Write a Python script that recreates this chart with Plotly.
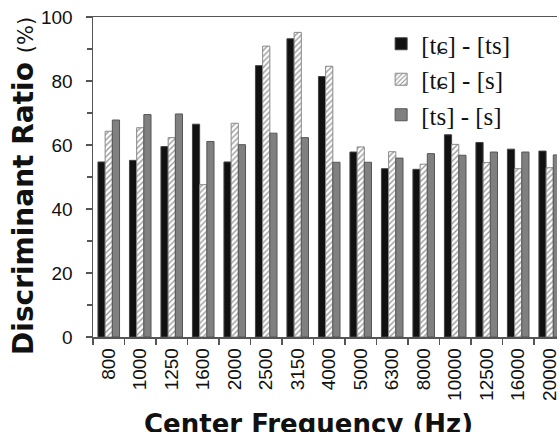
import plotly.graph_objects as go

categories = ["800", "1000", "1250", "1600", "2000", "2500", "3150", "4000",
              "5000", "6300", "8000", "10000", "12500", "16000", "20000"]
tc_ts = [54.7, 55.2, 59.5, 66.5, 54.7, 84.8, 93.2, 81.4, 57.8, 52.6, 52.4, 63.2, 60.8, 58.7, 58.1]
tc_s = [64.3, 65.4, 62.3, 47.6, 66.8, 90.9, 95.2, 84.6, 59.4, 57.9, 54.0, 60.2, 54.5, 52.6, 52.9]
ts_s = [67.8, 69.5, 69.7, 61.1, 60.1, 63.7, 62.3, 54.6, 54.6, 55.9, 57.3, 56.8, 57.8, 57.8, 56.9]
series_names = ["[tɕ] - [ts]", "[tɕ] - [s]", "[ts] - [s]"]

fig = go.Figure()
fig.add_trace(go.Bar(x=categories, y=tc_ts, name=series_names[0],
                     marker=dict(color="#111111", line=dict(color="#444444", width=1))))
fig.add_trace(go.Bar(x=categories, y=tc_s, name=series_names[1],
                     marker=dict(color="white", line=dict(color="#888888", width=1),
                                 pattern=dict(shape="/", fgcolor="#333333", bgcolor="white",
                                              size=4, solidity=0.35))))
fig.add_trace(go.Bar(x=categories, y=ts_s, name=series_names[2],
                     marker=dict(color="#808080", line=dict(color="#555555", width=1))))

L, T, B = 93, 17, 95
W, H = 560, 432
pw = W - L
ph = H - T - B
step = 31.7
xmax = -0.5 + pw / step

fig.update_layout(
    width=W, height=H,
    margin=dict(l=L, r=0, t=T, b=B, pad=0),
    paper_bgcolor="white", plot_bgcolor="white",
    barmode="group", bargap=0.315, bargroupgap=0,
    showlegend=True,
    legend=dict(x=(383 - L) / pw, y=(H - B - 21) / ph, xanchor="left", yanchor="top",
                bgcolor="rgba(0,0,0,0)", font=dict(family="Liberation Serif", size=25, color="#111"),
                traceorder="normal"),
    font=dict(family="Liberation Sans", color="#111"),
    hovermode=False,
)
fig.update_xaxes(
    type="category", range=[-0.5, xmax],
    showline=True, linecolor="#555555", linewidth=1.5, mirror=True,
    ticks="outside", tickson="boundaries", ticklen=6, tickcolor="#555555", tickwidth=1.5,
    tickangle=-90, tickfont=dict(size=19, family="Liberation Sans", color="#111"),
    ticklabelstandoff=2,
    showgrid=False, zeroline=False,
)
fig.update_yaxes(
    range=[0, 100], tickvals=[0, 20, 40, 60, 80, 100],
    showline=True, linecolor="#555555", linewidth=1.5,
    ticks="outside", ticklen=6, tickcolor="#555555", tickwidth=1.5,
    minor=dict(tickvals=[10, 30, 50, 70, 90], ticks="outside", ticklen=5, tickcolor="#555555", tickwidth=1.5),
    tickfont=dict(size=19, family="Liberation Sans", color="#111"),
    ticklabelstandoff=9,
    showgrid=False, zeroline=False,
)
fig.add_annotation(
    text="<b>Discriminant Ratio</b> <span style='font-size:21px'>(%)</span>",
    xref="paper", yref="paper", x=(22.5 - L) / pw, y=(H - B - 186) / ph,
    xanchor="center", yanchor="middle", textangle=-90, showarrow=False,
    font=dict(family="DejaVu Sans", size=28, color="#111"),
)
fig.add_annotation(
    text="<b>Center Frequency (Hz)</b>",
    xref="paper", yref="paper", x=(310 - L) / pw, y=(H - B - 424) / ph,
    xanchor="center", yanchor="middle", showarrow=False,
    font=dict(family="DejaVu Sans", size=26, color="#111"),
)
fig.write_html("out.html", config={"displayModeBar": False, "staticPlot": True},
               post_script="document.body.style.margin='0';document.body.style.overflow='hidden';")
